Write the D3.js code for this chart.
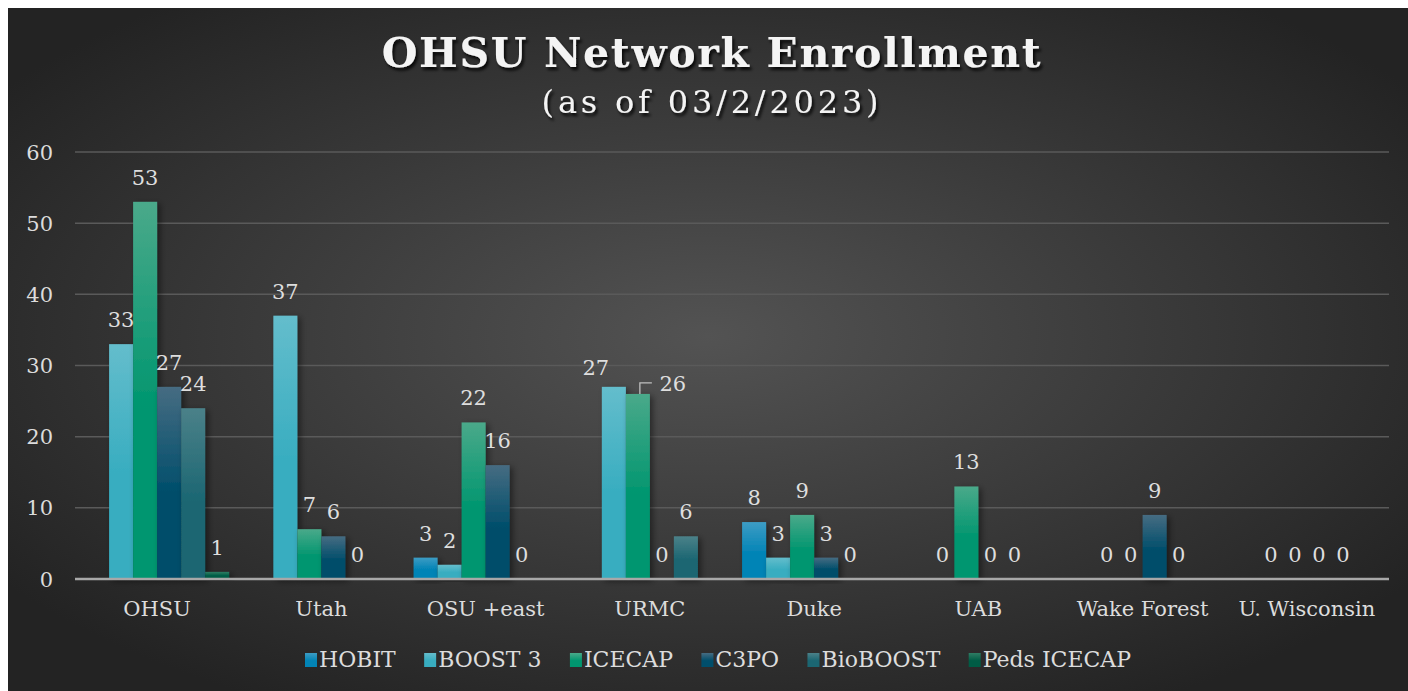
<!DOCTYPE html>
<html>
  <head>
    <meta charset="UTF-8">
    <style>
      body {
        margin: 0;
        background: #fff;
      }
      text {
        font-family: 'DejaVu Serif', serif;
      }
    </style>
    <script src="https://d3js.org/d3.v7.min.js"></script>
  </head>
  <body>
    <svg id="chart"></svg>
    <script>
      let categories = ['OHSU', 'Utah', 'OSU +east', 'URMC', 'Duke', 'UAB', 'Wake Forest', 'U. Wisconsin']
      let series = ['HOBIT', 'BOOST 3', 'ICECAP', 'C3PO', 'BioBOOST', 'Peds ICECAP']

      // null = no bar, no label
      let hobit = [null, null, 3, null, 8, null, null, null]
      let boost3 = [33, 37, 2, 27, 3, 0, 0, 0]
      let icecap = [53, 7, 22, 26, 9, 13, 0, 0]
      let c3po = [27, 6, 16, 0, 3, 0, 9, 0]
      let bioboost = [24, 0, 0, 6, 0, 0, 0, 0]
      let pedsIcecap = [1, null, null, null, null, null, null, null]

      let yTicks = [0, 10, 20, 30, 40, 50, 60]

      let values = [hobit, boost3, icecap, c3po, bioboost, pedsIcecap]

      let colors = {
        'HOBIT': ['#3d9cc4', '#0284b6'],
        'BOOST 3': ['#64bdcc', '#38adc0'],
        'ICECAP': ['#4aa98a', '#00966f'],
        'C3PO': ['#466c82', '#004e6b'],
        'BioBOOST': ['#4b8189', '#1b6672'],
        'Peds ICECAP': ['#2f7d64', '#005c45']
      }

      let width = 1408
      let height = 691
      let plot = {left: 75, right: 1389, top: 152, bottom: 579}

      let svg = d3.select('#chart')
        .attr('width', width)
        .attr('height', height)

      let defs = svg.append('defs')

      let bg = defs.append('radialGradient')
        .attr('id', 'bg')
        .attr('cx', '50%').attr('cy', '48%').attr('r', '62%')
      bg.append('stop').attr('offset', '0%').attr('stop-color', '#535353')
      bg.append('stop').attr('offset', '100%').attr('stop-color', '#232323')

      series.forEach((s, i) => {
        let g = defs.append('linearGradient')
          .attr('id', 'grad' + i)
          .attr('x1', 0).attr('y1', 0).attr('x2', 0).attr('y2', 1)
        g.append('stop').attr('offset', '0%').attr('stop-color', colors[s][0])
        g.append('stop').attr('offset', '55%').attr('stop-color', colors[s][1])
        g.append('stop').attr('offset', '100%').attr('stop-color', colors[s][1])
      })

      let shadow = defs.append('filter')
        .attr('id', 'barShadow')
        .attr('x', '-20%').attr('y', '-20%').attr('width', '160%').attr('height', '140%')
      shadow.append('feDropShadow')
        .attr('dx', 3).attr('dy', 2).attr('stdDeviation', 3)
        .attr('flood-color', '#000').attr('flood-opacity', 0.45)

      let textShadow = defs.append('filter')
        .attr('id', 'textShadow')
        .attr('x', '-10%').attr('y', '-30%').attr('width', '120%').attr('height', '170%')
      textShadow.append('feDropShadow')
        .attr('dx', 2).attr('dy', 3).attr('stdDeviation', 1.8)
        .attr('flood-color', '#000').attr('flood-opacity', 0.85)

      svg.append('rect')
        .attr('x', 8).attr('y', 8)
        .attr('width', width - 8).attr('height', height - 8)
        .attr('fill', 'url(#bg)')

      // title
      function fitText(sel, target) {
        let n = sel.text().length
        let len = sel.node().getComputedTextLength()
        sel.attr('letter-spacing', (target - len) / (n - 1))
      }

      let title = svg.append('text')
        .attr('x', 712).attr('y', 67)
        .attr('text-anchor', 'middle')
        .attr('font-size', 41)
        .attr('font-weight', 'bold')
        .attr('fill', '#f4f4f4')
        .attr('filter', 'url(#textShadow)')
        .text('OHSU Network Enrollment')
      fitText(title, 659)

      let subtitle = svg.append('text')
        .attr('x', 712).attr('y', 113)
        .attr('text-anchor', 'middle')
        .attr('font-size', 32)
        .attr('fill', '#f4f4f4')
        .attr('filter', 'url(#textShadow)')
        .text('(as of 03/2/2023)')
      fitText(subtitle, 337)

      let x0 = d3.scaleBand()
        .domain(categories)
        .range([plot.left, plot.right])

      let x1 = d3.scaleBand()
        .domain(series)
        .range([0, x0.bandwidth()])
        .paddingOuter(0.42)

      let y = d3.scaleLinear()
        .domain([0, 60])
        .range([plot.bottom, plot.top])

      // gridlines
      svg.append('g')
        .selectAll('line')
        .data(yTicks.slice(1))
        .join('line')
        .attr('x1', plot.left).attr('x2', plot.right)
        .attr('y1', d => y(d)).attr('y2', d => y(d))
        .attr('stroke', '#5a5a5a')
        .attr('stroke-width', 1.5)

      let axisY = d3.axisLeft(y)
        .tickValues(yTicks)
        .tickSize(0)
        .tickPadding(0)
      let gy = svg.append('g')
        .attr('transform', `translate(53, 0)`)
        .call(axisY)
      gy.select('.domain').remove()
      gy.selectAll('text')
        .attr('font-family', 'DejaVu Serif')
        .attr('font-size', 21)
        .attr('fill', '#dcdcdc')
        .attr('dy', 7)

      let rows = []
      categories.forEach((c, ci) => {
        series.forEach((s, si) => {
          let v = values[si][ci]
          if (v !== null) rows.push({cat: c, series: s, si: si, value: v})
        })
      })

      let bars = svg.append('g')
      bars.selectAll('rect')
        .data(rows.filter(d => d.value > 0))
        .join('rect')
        .attr('x', d => x0(d.cat) + x1(d.series))
        .attr('y', d => y(d.value))
        .attr('width', x1.bandwidth())
        .attr('height', d => y(0) - y(d.value))
        .attr('fill', d => `url(#grad${d.si})`)
        .attr('filter', 'url(#barShadow)')

      // x axis
      let axisX = d3.axisBottom(x0)
        .tickSize(0)
        .tickPadding(0)
      let gx = svg.append('g')
        .attr('transform', `translate(0, ${plot.bottom})`)
        .call(axisX)
      gx.select('.domain')
        .attr('stroke', '#a8a8a8')
        .attr('stroke-width', 2.5)
        .attr('d', `M${plot.left},0H${plot.right}`)
      gx.selectAll('text')
        .attr('font-family', 'DejaVu Serif')
        .attr('font-size', 21)
        .attr('fill', '#dcdcdc')
        .attr('dy', 0)
        .attr('y', 37)

      // data labels; URMC pair is spread apart by Excel
      let nudge = {'URMC|BOOST 3': [-18, 5], 'URMC|ICECAP': [35, 14]}
      let labels = svg.append('g')
      rows.forEach(d => {
        let cx = x0(d.cat) + x1(d.series) + x1.bandwidth() / 2
        let ty = y(d.value) - 17
        let n = nudge[d.cat + '|' + d.series] || [0, 0]
        labels.append('text')
          .attr('x', cx + n[0])
          .attr('y', ty + n[1])
          .attr('text-anchor', 'middle')
          .attr('font-size', 21)
          .attr('fill', '#dedede')
          .text(d.value)
        if (d.cat == 'URMC' && d.series == 'ICECAP') {
          labels.append('path')
            .attr('d', `M${cx + 2},${y(d.value)}V${ty + n[1] - 8}H${cx + 14}`)
            .attr('fill', 'none')
            .attr('stroke', '#bfbfbf')
            .attr('stroke-width', 1.3)
        }
      })

      // legend, spread to the same overall width as the original
      let legend = svg.append('g')
      let items = series.map((s, i) => {
        let item = legend.append('g')
        item.append('rect')
          .attr('x', 0).attr('y', 653)
          .attr('width', 12).attr('height', 14)
          .attr('fill', `url(#grad${i})`)
        let t = item.append('text')
          .attr('x', 14).attr('y', 667)
          .attr('font-size', 22)
          .attr('fill', '#dcdcdc')
          .text(s)
        return {item, w: 14 + t.node().getComputedTextLength()}
      })
      let total = d3.sum(items, d => d.w)
      let gap = (826 - total) / (items.length - 1)
      let lx = 305
      items.forEach(d => {
        d.item.attr('transform', `translate(${lx}, 0)`)
        lx += d.w + gap
      })
    </script>
  </body>
</html>
